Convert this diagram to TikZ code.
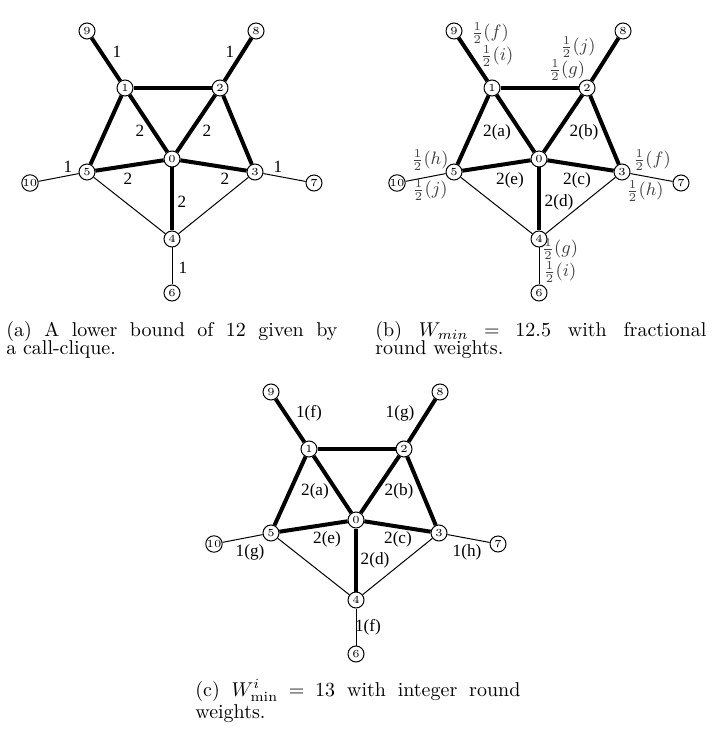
\documentclass[tikz,border=0pt]{standalone}
\usepackage{fontspec}
\newfontfamily\edgefont{Liberation Serif}
\newcommand{\captfont}{\fontsize{10}{9}\selectfont\lineskiplimit-6pt\relax}
\usetikzlibrary{positioning}
\tikzset{vtx/.style={circle,draw,fill=white,line width=0.5pt,minimum size=8pt,inner sep=0pt,font=\fontsize{5.4}{6}\selectfont},heavy/.style={line width=2pt},light/.style={line width=0.5pt},wlbl/.style={font=\edgefont\fontsize{8.6}{9}\selectfont,inner sep=0pt},flbl/.style={text=black!75,font=\fontsize{9}{10}\selectfont,inner sep=0pt},capt/.style={anchor=base west,align=left,inner sep=0pt,font=\captfont}}

% one copy of the graph; #1 is the prefix of the node names
\newcommand{\callgraph}[1]{%
 \node[vtx] (#10) at (172,159) {0};
 \node[vtx] (#11) at (125,88) {1};
 \node[vtx] (#12) at (220,88) {2};
 \node[vtx] (#13) at (255,172) {3};
 \node[vtx] (#14) at (172,239) {4};
 \node[vtx] (#15) at (87,172) {5};
 \node[vtx] (#16) at (172,293) {6};
 \node[vtx] (#17) at (314,183) {7};
 \node[vtx] (#18) at (256,31) {8};
 \node[vtx] (#19) at (87,31) {9};
 \node[vtx] (#110) at (30,183) {10};
 \draw[heavy] (#19) -- (#11);
 \draw[heavy] (#18) -- (#12);
 \draw[heavy] (#11) -- (#12);
 \draw[heavy] (#11) -- (#15);
 \draw[heavy] (#12) -- (#13);
 \draw[heavy] (#11) -- (#10);
 \draw[heavy] (#12) -- (#10);
 \draw[heavy] (#15) -- (#10);
 \draw[heavy] (#13) -- (#10);
 \draw[heavy] (#10) -- (#14);
 \draw[light] (#15) -- (#14);
 \draw[light] (#13) -- (#14);
 \draw[light] (#110) -- (#15);
 \draw[light] (#13) -- (#17);
 \draw[light] (#14) -- (#16);
}

\begin{document}
\begin{tikzpicture}[x=0.5pt,y=-0.5pt]
\useasboundingbox (0,0) rectangle (715,731);

% (a) call-clique
\callgraph{a}
\node[wlbl] (a91) at (117,52) {1};
\node[wlbl] (a82) at (230,52) {1};
\node[wlbl] (a10) at (140,131) {2};
\node[wlbl] (a20) at (207,131) {2};
\node[wlbl] (a50) at (128,179) {2};
\node[wlbl] (a30) at (225,179) {2};
\node[wlbl] (a04) at (182,202) {2};
\node[wlbl] (a105) at (68,167) {1};
\node[wlbl] (a37) at (278,167) {1};
\node[wlbl] (a46) at (183,268) {1};
\node[capt] (capa) at (6,354)
 {\makebox[165.5pt][s]{(a) A lower bound of 12 given by}\\a call-clique.};

% (b) fractional round weights
\begin{scope}[shift={(367,0)}]
\callgraph{b}
\node[flbl] (b91f) at (123,33) {$\frac{1}{2}(f)$};
\node[flbl] (b91i) at (130,56) {$\frac{1}{2}(i)$};
\node[flbl] (b82j) at (211,47) {$\frac{1}{2}(j)$};
\node[flbl] (b82g) at (200,70) {$\frac{1}{2}(g)$};
\node[wlbl] (b10) at (130,132) {2(a)};
\node[wlbl] (b20) at (217,132) {2(b)};
\node[wlbl] (b50) at (143,180) {2(e)};
\node[wlbl] (b30) at (210,180) {2(c)};
\node[wlbl] (b04) at (192,202) {2(d)};
\node[flbl] (b105h) at (63,160) {$\frac{1}{2}(h)$};
\node[flbl] (b105j) at (63,190) {$\frac{1}{2}(j)$};
\node[flbl] (b37f) at (285,160) {$\frac{1}{2}(f)$};
\node[flbl] (b37h) at (278,191) {$\frac{1}{2}(h)$};
\node[flbl] (b46g) at (193,249) {$\frac{1}{2}(g)$};
\node[flbl] (b46i) at (193,272) {$\frac{1}{2}(i)$};
\end{scope}
\node[capt] (capb) at (375,354)
 {\makebox[165.5pt][s]{(b) $\thickmuskip=5mu plus 3mu W_{min}=12.5$ with fractional}\\round weights.};

% (c) integer round weights
\begin{scope}[shift={(184,361)}]
\callgraph{c}
\node[wlbl] (c91) at (125,52) {1(f)};
\node[wlbl] (c82) at (216,52) {1(g)};
\node[wlbl] (c10) at (131,130) {2(a)};
\node[wlbl] (c20) at (215,130) {2(b)};
\node[wlbl] (c50) at (143,178) {2(e)};
\node[wlbl] (c30) at (214,178) {2(c)};
\node[wlbl] (c04) at (191,199) {2(d)};
\node[wlbl] (c105) at (66,191) {1(g)};
\node[wlbl] (c37) at (283,191) {1(h)};
\node[wlbl] (c46) at (184,266) {1(f)};
\end{scope}
\node[capt] (capc) at (195,718)
 {\makebox[162.5pt][s]{(c) $\thickmuskip=5mu plus 3mu W^i_{\min}=13$ with integer round}\\[2pt]weights.};
\end{tikzpicture}
\end{document}
